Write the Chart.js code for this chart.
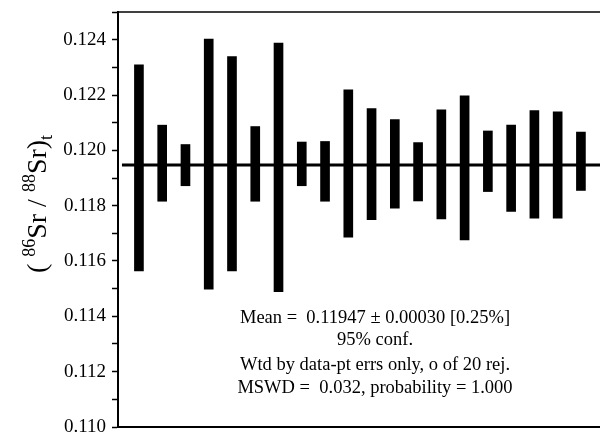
<!DOCTYPE html>
<html>
<head>
<meta charset="utf-8">
<script src="https://cdn.jsdelivr.net/npm/chart.js@4/dist/chart.umd.min.js"></script>
<style>
  html, body { margin: 0; padding: 0; background: #fff; }
  #wrap { width: 600px; height: 433px; position: relative; }
</style>
</head>
<body>
<div id="wrap"><canvas id="chart"></canvas></div>
<script>
// analysis number 1..20
const analyses = [1, 2, 3, 4, 5, 6, 7, 8, 9, 10, 11, 12, 13, 14, 15, 16, 17, 18, 19, 20];
// error box bottoms / tops for (86Sr/88Sr)t
const lows  = [0.11564, 0.11816, 0.11872, 0.11498, 0.11564, 0.11816, 0.11489, 0.11872, 0.11816, 0.11686,
               0.11749, 0.11791, 0.11817, 0.11752, 0.11676, 0.11851, 0.11779, 0.11755, 0.11755, 0.11855];
const highs = [0.12309, 0.12091, 0.12021, 0.12402, 0.12339, 0.12086, 0.12388, 0.12030, 0.12032, 0.12219,
               0.12151, 0.12111, 0.12028, 0.12146, 0.12197, 0.12070, 0.12091, 0.12144, 0.12139, 0.12066];
const meanValue = 0.11947;
const meanSpan = [0.27, 20.82];
const yTicks = [0.110, 0.112, 0.114, 0.116, 0.118, 0.120, 0.122, 0.124];
const statLines = [
  'Mean =  0.11947 \u00b1 0.00030 [0.25%]',
  '95% conf.',
  'Wtd by data-pt errs only, o of 20 rej.',
  'MSWD =  0.032, probability = 1.000'
];

const serif = '"Liberation Serif", "DejaVu Serif", serif';

// frame top line + y title + stats text
const extras = {
  id: 'extras',
  afterDraw(chart) {
    const ctx = chart.ctx;
    const a = chart.chartArea;
    ctx.save();
    ctx.strokeStyle = '#000';
    ctx.lineWidth = 1.5;
    ctx.beginPath();
    ctx.moveTo(a.left, a.top);
    ctx.lineTo(a.right, a.top);
    ctx.stroke();

    // stats block
    ctx.fillStyle = '#000';
    ctx.font = '18.5px ' + serif;
    ctx.textAlign = 'center';
    ctx.textBaseline = 'alphabetic';
    const ys = [323, 345, 370, 393];
    statLines.forEach((t, i) => ctx.fillText(t, 375, ys[i]));

    // rotated y-axis title: ( 86Sr / 88Sr)t
    const parts = [
      { t: '( ', f: 28, dy: 0 },
      { t: '86', f: 18, dy: -11 },
      { t: 'Sr / ', f: 28, dy: 0 },
      { t: '88', f: 18, dy: -11 },
      { t: 'Sr)', f: 28, dy: 0 },
      { t: 't', f: 18, dy: 6 }
    ];
    let total = 0;
    parts.forEach(p => { ctx.font = p.f + 'px ' + serif; p.w = ctx.measureText(p.t).width; total += p.w; });
    ctx.translate(46, 204);
    ctx.rotate(-Math.PI / 2);
    ctx.textAlign = 'left';
    let x = -total / 2;
    parts.forEach(p => {
      ctx.font = p.f + 'px ' + serif;
      ctx.fillText(p.t, x, p.dy);
      x += p.w;
    });
    ctx.restore();
  }
};

new Chart(document.getElementById('chart'), {
  data: {
    datasets: [
      {
        type: 'bar',
        data: analyses.map((a, i) => ({ x: a, y: [lows[i], highs[i]] })),
        backgroundColor: '#000',
        borderWidth: 0,
        barThickness: 9,
        order: 2
      },
      {
        type: 'line',
        data: meanSpan.map(x => ({ x: x, y: meanValue })),
        borderColor: '#000',
        borderWidth: 3,
        pointRadius: 0,
        fill: false,
        order: 1
      }
    ]
  },
  options: {
    responsive: true,
    maintainAspectRatio: false,
    animation: false,
    layout: { padding: { top: 12, left: 0, right: 0, bottom: 0 } },
    plugins: { legend: { display: false }, tooltip: { enabled: false } },
    scales: {
      x: {
        type: 'linear',
        offset: false,
        min: 0.1,
        max: 20.82,
        ticks: { display: false },
        grid: { display: false },
        border: { display: true, color: '#000', width: 2 },
        afterFit(scale) {
          scale.height = 6;
          scale.paddingLeft = 0; scale.paddingRight = 0;
        }
      },
      y: {
        min: 0.110,
        max: 0.125,
        afterFit(scale) {
          scale.width = 118;
          scale.paddingTop = 0; scale.paddingBottom = 0;
        },
        afterBuildTicks(scale) {
          const t = [];
          for (let k = 110; k <= 125; k++) t.push({ value: k / 1000 });
          scale.ticks = t;
        },
        ticks: {
          color: '#000',
          padding: 6,
          font: { family: serif, size: 19 },
          callback(v) {
            const hit = yTicks.find(t => Math.abs(t - v) < 1e-7);
            return hit !== undefined ? hit.toFixed(3) : '';
          }
        },
        grid: {
          drawOnChartArea: false,
          drawTicks: true,
          tickLength: 6,
          tickWidth: 1.5,
          tickColor: '#000'
        },
        border: { display: true, color: '#000', width: 2 }
      }
    }
  },
  plugins: [extras]
});
</script>
</body>
</html>
